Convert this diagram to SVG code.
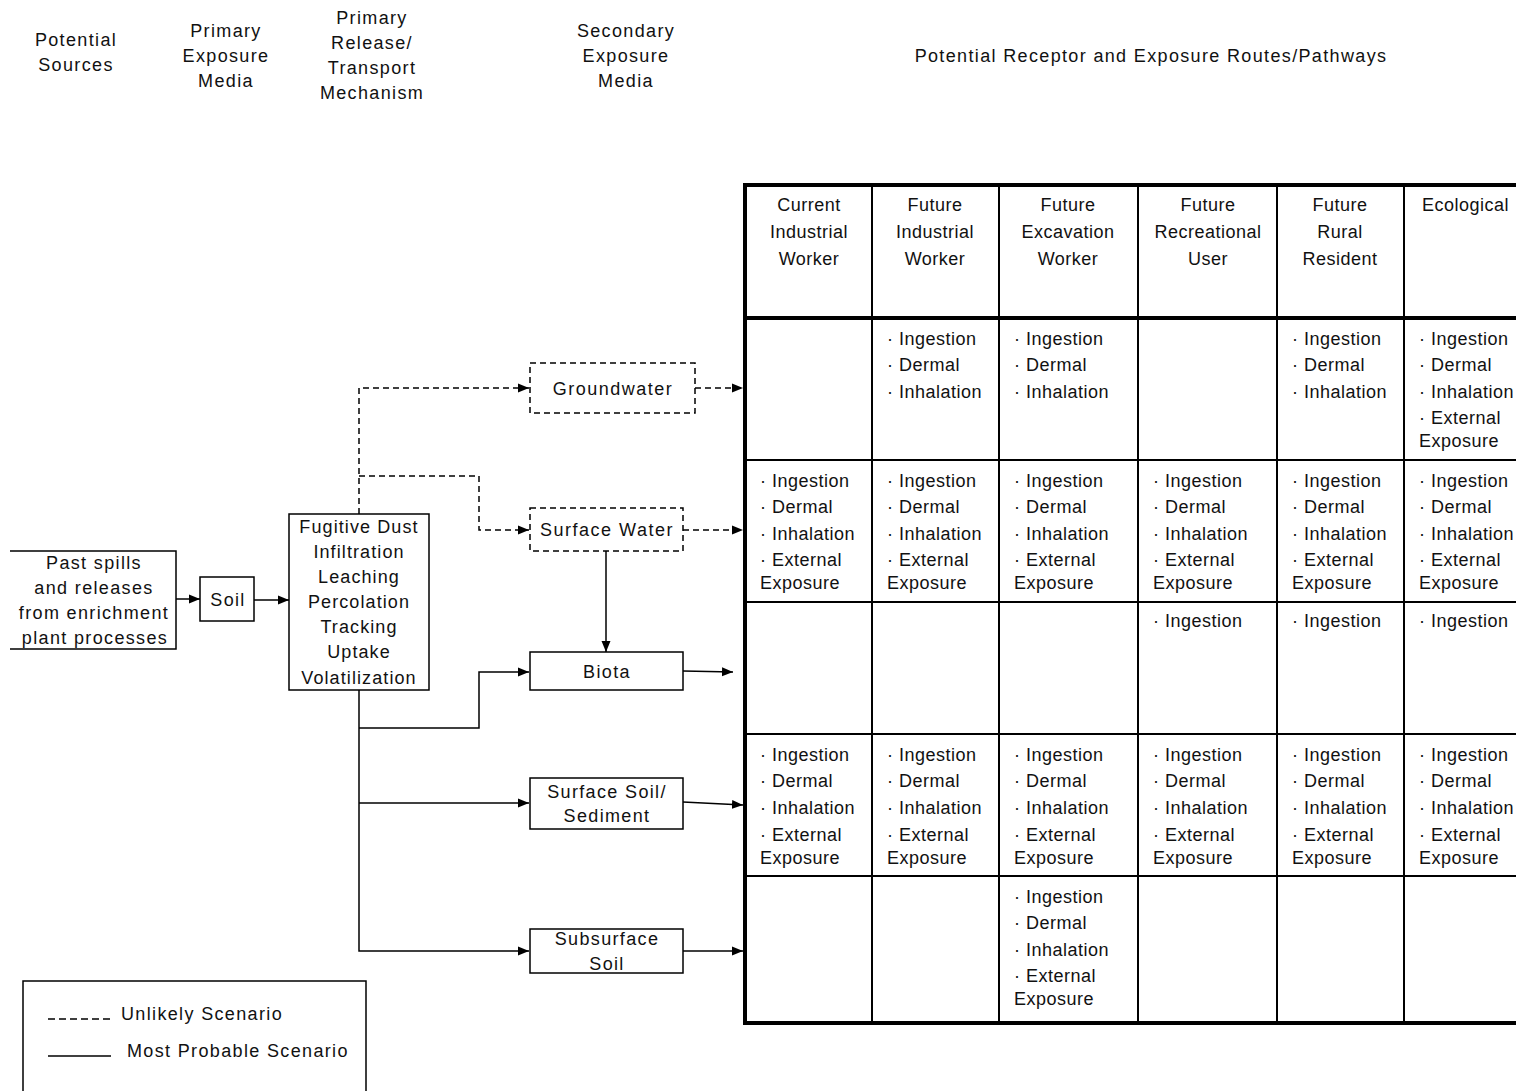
<svg xmlns="http://www.w3.org/2000/svg" width="1516" height="1091" viewBox="0 0 1516 1091">
<style>
text{font-family:"Liberation Sans",Arial,sans-serif;font-size:18px;fill:#111;letter-spacing:0.5px}
.c{text-anchor:middle}
.w{letter-spacing:1.35px}
.m{letter-spacing:1.1px}
.s{letter-spacing:1.5px}
.box{fill:#fff;stroke:#000;stroke-width:1.5}
.dbox{fill:#fff;stroke:#000;stroke-width:1.5;stroke-dasharray:6 4}
.ln{fill:none;stroke:#000;stroke-width:1.5}
.dl{fill:none;stroke:#000;stroke-width:1.5;stroke-dasharray:6 4}
.grid{stroke:#000;stroke-width:2;fill:none}
.thick{stroke:#000;stroke-width:4;fill:none}
</style>
<defs>
<marker id="ah" markerUnits="userSpaceOnUse" markerWidth="11" markerHeight="10" refX="11" refY="5" orient="auto">
<path d="M0,0.5 L11,5 L0,9.5 z" fill="#000"/>
</marker>
</defs>
<rect width="1516" height="1091" fill="#fff"/>

<g id="column-headers">
<text class="c w"><tspan x="76" y="46">Potential</tspan><tspan x="76" y="71">Sources</tspan></text>
<text class="c w"><tspan x="226" y="37">Primary</tspan><tspan x="226" y="62">Exposure</tspan><tspan x="226" y="87">Media</tspan></text>
<text class="c w"><tspan x="372" y="24">Primary</tspan><tspan x="372" y="49">Release/</tspan><tspan x="372" y="74">Transport</tspan><tspan x="372" y="99">Mechanism</tspan></text>
<text class="c w"><tspan x="626" y="37">Secondary</tspan><tspan x="626" y="62">Exposure</tspan><tspan x="626" y="87">Media</tspan></text>
<text class="c w" x="1151" y="62">Potential Receptor and Exposure Routes/Pathways</text>
</g>

<g id="connectors">
<line class="ln" x1="176" y1="599" x2="200" y2="599" marker-end="url(#ah)"/>
<line class="ln" x1="254" y1="600" x2="289" y2="600" marker-end="url(#ah)"/>
<polyline class="dl" points="359,514 359,388 529,388" marker-end="url(#ah)"/>
<polyline class="dl" points="359,476 479,476 479,530 529,530" marker-end="url(#ah)"/>
<line class="dl" x1="695" y1="388" x2="743" y2="388" marker-end="url(#ah)"/>
<line class="dl" x1="683" y1="530" x2="743" y2="530" marker-end="url(#ah)"/>
<line class="ln" x1="606" y1="551" x2="606" y2="652" marker-end="url(#ah)"/>
<polyline class="ln" points="359,690 359,951 529,951" marker-end="url(#ah)"/>
<polyline class="ln" points="359,728 479,728 479,672 529,672" marker-end="url(#ah)"/>
<line class="ln" x1="359" y1="803" x2="529" y2="803" marker-end="url(#ah)"/>
<line class="ln" x1="683" y1="671" x2="733" y2="672" marker-end="url(#ah)"/>
<line class="ln" x1="683" y1="802" x2="743" y2="805" marker-end="url(#ah)"/>
<line class="ln" x1="683" y1="951" x2="743" y2="951" marker-end="url(#ah)"/>
</g>

<g id="past-spills">
<path class="box" d="M10,551 H176 V649 H10"/>
<text class="c w"><tspan x="94" y="569">Past spills</tspan><tspan x="94" y="594">and releases</tspan><tspan x="94" y="619">from enrichment</tspan><tspan x="95" y="644">plant processes</tspan></text>
</g>

<g id="soil">
<rect class="box" x="200" y="577" width="54" height="44"/>
<text class="c w" x="228" y="606">Soil</text>
</g>

<g id="transport-mechanisms">
<rect class="box" x="289" y="514" width="140" height="176"/>
<text class="c m"><tspan x="359" y="533">Fugitive Dust</tspan><tspan x="359" y="558">Infiltration</tspan><tspan x="359" y="583">Leaching</tspan><tspan x="359" y="608">Percolation</tspan><tspan x="359" y="633">Tracking</tspan><tspan x="359" y="658">Uptake</tspan><tspan x="359" y="684">Volatilization</tspan></text>
</g>

<g id="groundwater">
<rect class="dbox" x="530" y="363" width="165" height="50"/>
<text class="c s" x="613" y="395">Groundwater</text>
</g>

<g id="surface-water">
<rect class="dbox" x="530" y="508" width="153" height="43"/>
<text class="c s" x="607" y="536">Surface Water</text>
</g>

<g id="biota">
<rect class="box" x="530" y="652" width="153" height="38"/>
<text class="c w" x="607" y="678">Biota</text>
</g>

<g id="surface-soil">
<rect class="box" x="530" y="778" width="153" height="51"/>
<text class="c w"><tspan x="607" y="798">Surface Soil/</tspan><tspan x="607" y="822">Sediment</tspan></text>
</g>

<g id="subsurface-soil">
<rect class="box" x="530" y="929" width="153" height="44"/>
<text class="c w"><tspan x="607" y="945">Subsurface</tspan><tspan x="607" y="970">Soil</tspan></text>
</g>

<g id="receptor-table">
<g class="grid">
<line x1="872" y1="185" x2="872" y2="1023"/>
<line x1="999" y1="185" x2="999" y2="1023"/>
<line x1="1138" y1="185" x2="1138" y2="1023"/>
<line x1="1277" y1="185" x2="1277" y2="1023"/>
<line x1="1404" y1="185" x2="1404" y2="1023"/>
<line x1="745" y1="460" x2="1516" y2="460"/>
<line x1="745" y1="602" x2="1516" y2="602"/>
<line x1="745" y1="734" x2="1516" y2="734"/>
<line x1="745" y1="876" x2="1516" y2="876"/>
</g>
<g class="thick">
<path d="M1516,185 H745 V1023 H1516"/>
<line x1="745" y1="318" x2="1516" y2="318"/>
</g>
<g id="table-headers">
<text class="c"><tspan x="809" y="211">Current</tspan><tspan x="809" y="238">Industrial</tspan><tspan x="809" y="265">Worker</tspan></text>
<text class="c"><tspan x="935" y="211">Future</tspan><tspan x="935" y="238">Industrial</tspan><tspan x="935" y="265">Worker</tspan></text>
<text class="c"><tspan x="1068" y="211">Future</tspan><tspan x="1068" y="238">Excavation</tspan><tspan x="1068" y="265">Worker</tspan></text>
<text class="c"><tspan x="1208" y="211">Future</tspan><tspan x="1208" y="238">Recreational</tspan><tspan x="1208" y="265">User</tspan></text>
<text class="c"><tspan x="1340" y="211">Future</tspan><tspan x="1340" y="238">Rural</tspan><tspan x="1340" y="265">Resident</tspan></text>
<text x="1422" y="211">Ecological</text>
</g>
<g id="row-groundwater">
<text><tspan x="887" y="345">· Ingestion</tspan><tspan x="887" y="371">· Dermal</tspan><tspan x="887" y="398">· Inhalation</tspan></text>
<text><tspan x="1014" y="345">· Ingestion</tspan><tspan x="1014" y="371">· Dermal</tspan><tspan x="1014" y="398">· Inhalation</tspan></text>
<text><tspan x="1292" y="345">· Ingestion</tspan><tspan x="1292" y="371">· Dermal</tspan><tspan x="1292" y="398">· Inhalation</tspan></text>
<text><tspan x="1419" y="345">· Ingestion</tspan><tspan x="1419" y="371">· Dermal</tspan><tspan x="1419" y="398">· Inhalation</tspan><tspan x="1419" y="424">· External</tspan><tspan x="1419" y="447">Exposure</tspan></text>
</g>
<g id="row-surface-water">
<text><tspan x="760" y="487">· Ingestion</tspan><tspan x="760" y="513">· Dermal</tspan><tspan x="760" y="540">· Inhalation</tspan><tspan x="760" y="566">· External</tspan><tspan x="760" y="589">Exposure</tspan></text>
<text><tspan x="887" y="487">· Ingestion</tspan><tspan x="887" y="513">· Dermal</tspan><tspan x="887" y="540">· Inhalation</tspan><tspan x="887" y="566">· External</tspan><tspan x="887" y="589">Exposure</tspan></text>
<text><tspan x="1014" y="487">· Ingestion</tspan><tspan x="1014" y="513">· Dermal</tspan><tspan x="1014" y="540">· Inhalation</tspan><tspan x="1014" y="566">· External</tspan><tspan x="1014" y="589">Exposure</tspan></text>
<text><tspan x="1153" y="487">· Ingestion</tspan><tspan x="1153" y="513">· Dermal</tspan><tspan x="1153" y="540">· Inhalation</tspan><tspan x="1153" y="566">· External</tspan><tspan x="1153" y="589">Exposure</tspan></text>
<text><tspan x="1292" y="487">· Ingestion</tspan><tspan x="1292" y="513">· Dermal</tspan><tspan x="1292" y="540">· Inhalation</tspan><tspan x="1292" y="566">· External</tspan><tspan x="1292" y="589">Exposure</tspan></text>
<text><tspan x="1419" y="487">· Ingestion</tspan><tspan x="1419" y="513">· Dermal</tspan><tspan x="1419" y="540">· Inhalation</tspan><tspan x="1419" y="566">· External</tspan><tspan x="1419" y="589">Exposure</tspan></text>
</g>
<g id="row-biota">
<text x="1153" y="627">· Ingestion</text>
<text x="1292" y="627">· Ingestion</text>
<text x="1419" y="627">· Ingestion</text>
</g>
<g id="row-surface-soil">
<text><tspan x="760" y="761">· Ingestion</tspan><tspan x="760" y="787">· Dermal</tspan><tspan x="760" y="814">· Inhalation</tspan><tspan x="760" y="841">· External</tspan><tspan x="760" y="864">Exposure</tspan></text>
<text><tspan x="887" y="761">· Ingestion</tspan><tspan x="887" y="787">· Dermal</tspan><tspan x="887" y="814">· Inhalation</tspan><tspan x="887" y="841">· External</tspan><tspan x="887" y="864">Exposure</tspan></text>
<text><tspan x="1014" y="761">· Ingestion</tspan><tspan x="1014" y="787">· Dermal</tspan><tspan x="1014" y="814">· Inhalation</tspan><tspan x="1014" y="841">· External</tspan><tspan x="1014" y="864">Exposure</tspan></text>
<text><tspan x="1153" y="761">· Ingestion</tspan><tspan x="1153" y="787">· Dermal</tspan><tspan x="1153" y="814">· Inhalation</tspan><tspan x="1153" y="841">· External</tspan><tspan x="1153" y="864">Exposure</tspan></text>
<text><tspan x="1292" y="761">· Ingestion</tspan><tspan x="1292" y="787">· Dermal</tspan><tspan x="1292" y="814">· Inhalation</tspan><tspan x="1292" y="841">· External</tspan><tspan x="1292" y="864">Exposure</tspan></text>
<text><tspan x="1419" y="761">· Ingestion</tspan><tspan x="1419" y="787">· Dermal</tspan><tspan x="1419" y="814">· Inhalation</tspan><tspan x="1419" y="841">· External</tspan><tspan x="1419" y="864">Exposure</tspan></text>
</g>
<g id="row-subsurface-soil">
<text><tspan x="1014" y="903">· Ingestion</tspan><tspan x="1014" y="929">· Dermal</tspan><tspan x="1014" y="956">· Inhalation</tspan><tspan x="1014" y="982">· External</tspan><tspan x="1014" y="1005">Exposure</tspan></text>
</g>
</g>

<g id="legend">
<path class="box" d="M23,1092 V981 H366 V1092"/>
<line x1="48" y1="1019" x2="112" y2="1019" stroke="#000" stroke-width="1.5" stroke-dasharray="7 4"/>
<text class="w" x="121" y="1020">Unlikely Scenario</text>
<line x1="48" y1="1056" x2="111" y2="1056" stroke="#000" stroke-width="1.5"/>
<text class="w" x="127" y="1057">Most Probable Scenario</text>
</g>
</svg>
